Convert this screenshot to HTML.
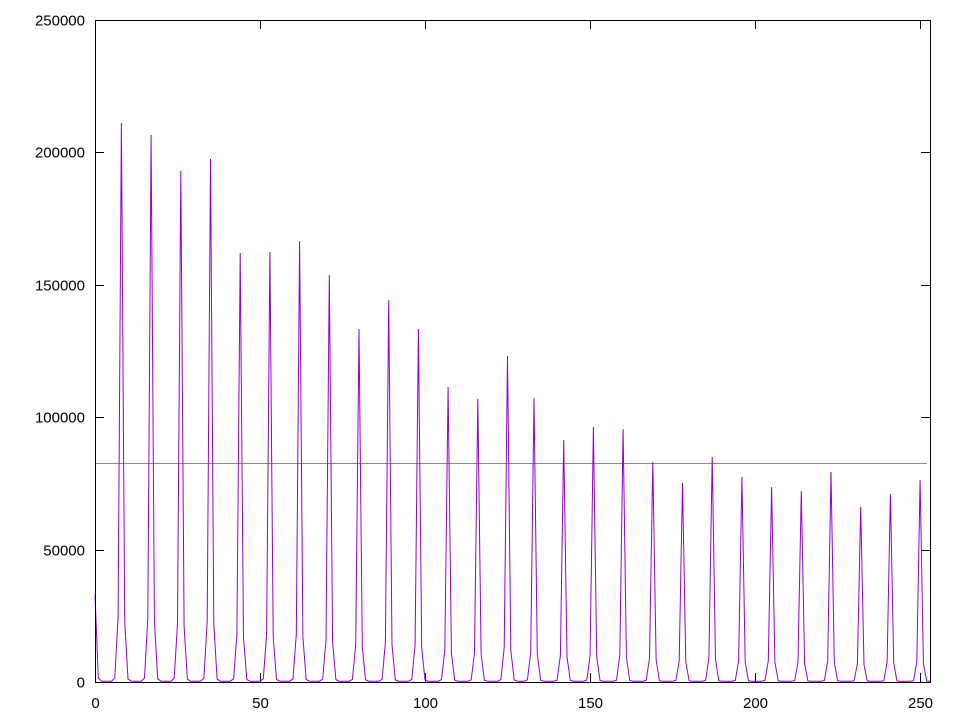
<!DOCTYPE html>
<html><head><meta charset="utf-8"><style>
body{margin:0;background:#fff}
svg text{font-family:"Liberation Sans",sans-serif;font-size:15px;fill:#000}
</style></head><body>
<svg width="960" height="720" viewBox="0 0 960 720" xmlns="http://www.w3.org/2000/svg">
<g id="ticks"></g>
<line id="mean" stroke="#888" stroke-width="1"/>
<polyline id="series" fill="none" stroke="#9400d3" stroke-width="1"/>
<rect x="95.5" y="20.5" width="835" height="662" fill="none" stroke="#000" stroke-width="1"/>
</svg>
<script>
const peakX=[8,17,26,35,44,53,62,71,80,89,98,107,116,125,133,142,151,160,169,178,187,196,205,214,223,232,241,250];
const peakVal=[211100,206600,193000,197500,162000,162400,166500,153700,133300,144200,133300,111400,106900,123100,107200,91400,96300,95500,83100,75100,85000,77400,73600,72100,79300,66100,71000,76300];
const preVal=[25000,24000,22000,23000,18000,18000,18000,16000,14000,15000,14000,12000,11000,13000,11000,10000,10000,10000,9000,8000,9000,8000,8000,7500,8000,7000,7500,7500];
const postVal=[23000,23000,21000,22000,17000,17000,17000,15000,13000,14000,13000,11000,10500,12000,10500,9500,9500,9500,8500,7500,8500,7500,7500,7000,7500,6500,7000,7000];
const pre2Val=[1500,1500,1400,1400,1200,1200,1200,1100,1000,1000,1000,900,800,900,800,700,700,700,600,600,600,600,600,500,600,500,500,500];
const post2Val=[1200,1200,1100,1100,1000,1000,1000,900,800,800,800,700,700,800,700,600,600,600,500,500,500,500,500,400,500,400,400,400];
const startVal=[33000,1500];
const meanVal=82700;
const xTicks=[0,50,100,150,200,250];
const yTicks=[0,50000,100000,150000,200000,250000];
const X0=95,X1=930,Y0=682,Y1=20,XMAX=253,YMAX=250000;
const sx=v=>X0+v/XMAX*(X1-X0), sy=v=>Y0-v/YMAX*(Y0-Y1);
const vals=new Array(XMAX+1).fill(300);
vals[0]=startVal[0];vals[1]=startVal[1];
peakX.forEach((p,i)=>{vals[p]=peakVal[i];if(p-1>=0)vals[p-1]=preVal[i];if(p+1<=XMAX)vals[p+1]=postVal[i];if(p-2>=0)vals[p-2]=pre2Val[i];if(p+2<=XMAX)vals[p+2]=post2Val[i];});
const s=document.getElementById('series');
s.setAttribute('points',vals.map((v,i)=>sx(i).toFixed(1)+','+sy(v).toFixed(1)).join(' '));
const m=document.getElementById('mean');
m.setAttribute('x1',X0);m.setAttribute('x2',X1-3);m.setAttribute('y1',sy(meanVal)+0.5);m.setAttribute('y2',sy(meanVal)+0.5);
const g=document.getElementById('ticks');const NS='http://www.w3.org/2000/svg';
xTicks.forEach(t=>{const x=Math.round(sx(t))+0.5;
 [[Y0,Y0-9],[Y1,Y1+9]].forEach(([a,b])=>{const l=document.createElementNS(NS,'line');
 
 
 l.setAttribute('x1',x);l.setAttribute('x2',x);l.setAttribute('y1',a);l.setAttribute('y2',b);l.setAttribute('stroke','#000');g.appendChild(l);});
 const tx=document.createElementNS(NS,'text');
 
 
 tx.setAttribute('x',x);tx.setAttribute('y',708);tx.setAttribute('text-anchor','middle');tx.textContent=t;g.appendChild(tx);});
yTicks.forEach(t=>{const y=Math.round(sy(t))+0.5;
 [[X0,X0+9],[X1,X1-9]].forEach(([a,b])=>{const l=document.createElementNS(NS,'line');
 
 
 l.setAttribute('x1',a);l.setAttribute('x2',b);l.setAttribute('y1',y);l.setAttribute('y2',y);l.setAttribute('stroke','#000');g.appendChild(l);});
 const tx=document.createElementNS(NS,'text');
 
 
 tx.setAttribute('x',85);tx.setAttribute('y',y+5);tx.setAttribute('text-anchor','end');tx.textContent=t;g.appendChild(tx);});
</script>
</body></html>
